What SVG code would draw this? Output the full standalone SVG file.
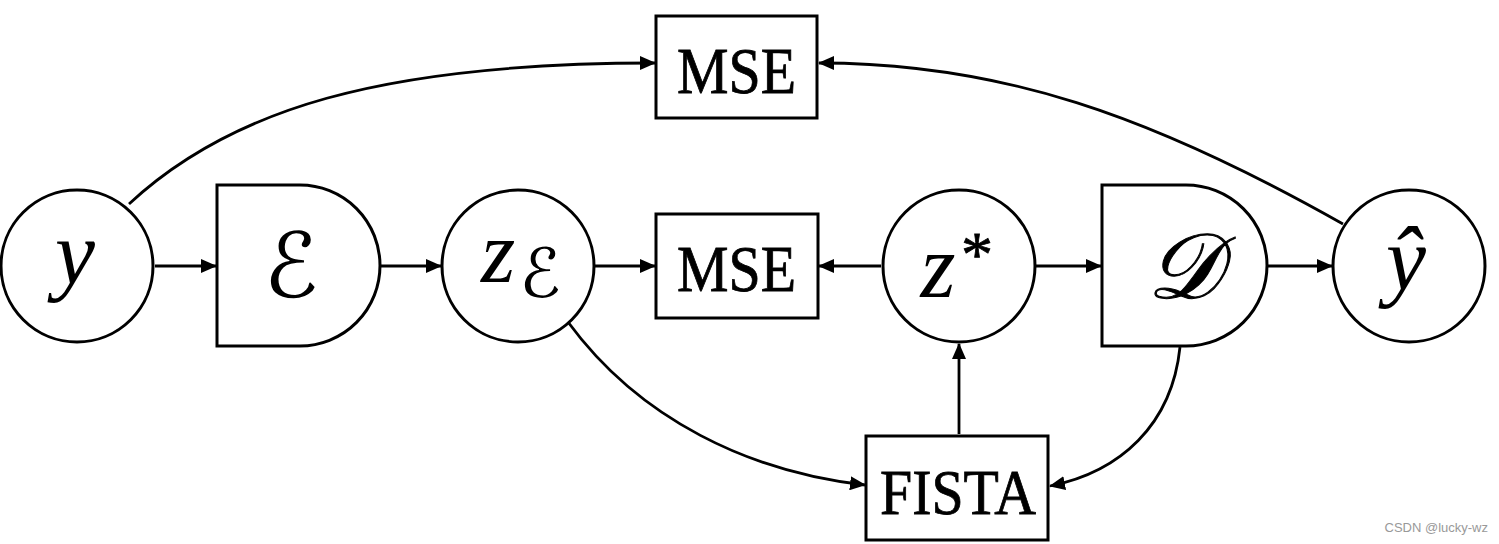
<svg xmlns="http://www.w3.org/2000/svg" width="1499" height="544" viewBox="0 0 1499 544">
<defs>
<style>
.n{fill:#fff;stroke:#000;stroke-width:3}
.c{fill:none;stroke:#000;stroke-width:2.8}
.t{font-family:"Liberation Serif","Times New Roman",serif;fill:#000;stroke:#000;stroke-width:0.8}
.m{font-family:"Liberation Serif","DejaVu Serif",serif;font-style:italic;fill:#000}
.s{font-family:"DejaVu Serif","DejaVu Sans","Noto Sans",serif;fill:#000}
</style>
<marker id="a" markerUnits="userSpaceOnUse" markerWidth="16" markerHeight="14" refX="15" refY="7" orient="auto">
<path d="M0,0 L16,7 L0,14 z" fill="#000"/>
</marker>
</defs>
<rect width="1499" height="544" fill="#fff"/>
<g id="connectors">
<path class="c" d="M155,266 L216,266" marker-end="url(#a)"/>
<path class="c" d="M381,266 L441,266" marker-end="url(#a)"/>
<path class="c" d="M595,266 L655,266" marker-end="url(#a)"/>
<path class="c" d="M881,266 L819,266" marker-end="url(#a)"/>
<path class="c" d="M1036,266 L1101,266" marker-end="url(#a)"/>
<path class="c" d="M1268,266 L1332,266" marker-end="url(#a)"/>
<path class="c" d="M959,434 L959,344" marker-end="url(#a)"/>
<path class="c" d="M129,204 C230,110 380,63 655,63" marker-end="url(#a)"/>
<path class="c" d="M1343,224 C1150,115 1000,63 819,63" marker-end="url(#a)"/>
<path class="c" d="M568,322 C640,420 750,472 865,485" marker-end="url(#a)"/>
<path class="c" d="M1180,347 C1172,425 1120,472 1050,486" marker-end="url(#a)"/>
</g>
<g id="node-y">
<circle class="n" cx="77" cy="266" r="76"/>
<text class="m" x="75" y="284" font-size="90" text-anchor="middle">y</text>
</g>
<g id="node-encoder">
<path class="n" d="M217,185 L300,185 A80,80.5 0 0 1 300,346 L217,346 Z"/>
<text class="s" x="291" y="297" font-size="90" font-style="italic" text-anchor="middle">ℰ</text>
</g>
<g id="node-zE">
<circle class="n" cx="518" cy="266" r="76"/>
<text class="m" x="498" y="282" font-size="88" text-anchor="middle">z</text>
<text class="s" x="540" y="297" font-size="68" font-style="italic" text-anchor="middle">ℰ</text>
</g>
<g id="node-mse-mid">
<rect class="n" x="656" y="214" width="162" height="104"/>
<text class="t" x="677" y="291" font-size="65" textLength="119" lengthAdjust="spacingAndGlyphs">MSE</text>
</g>
<g id="node-mse-top">
<rect class="n" x="656" y="16" width="161" height="102"/>
<text class="t" x="677" y="93" font-size="65" textLength="119" lengthAdjust="spacingAndGlyphs">MSE</text>
</g>
<g id="node-zstar">
<circle class="n" cx="959" cy="266" r="76"/>
<text class="m" x="938" y="297" font-size="90" text-anchor="middle">z</text>
<text class="t" x="977" y="276" font-size="64" stroke-width="0" text-anchor="middle">*</text>
</g>
<g id="node-decoder">
<path class="n" d="M1102,185 L1186,185 A81,80.5 0 0 1 1186,346 L1102,346 Z"/>
<text class="s" x="1183" y="298" font-size="92" font-style="italic" text-anchor="middle" stroke="#000" stroke-width="1">𝒟</text>
</g>
<g id="node-yhat">
<circle class="n" cx="1409" cy="266" r="76"/>
<text class="m" x="1406" y="290" font-size="90" text-anchor="middle">ŷ</text>
</g>
<g id="node-fista">
<rect class="n" x="866" y="436" width="182" height="104"/>
<text class="t" x="880" y="514" font-size="64" textLength="156" lengthAdjust="spacingAndGlyphs">FISTA</text>
</g>
<text x="1488" y="532" font-family="'Liberation Sans',Arial,sans-serif" font-size="13" fill="#999" text-anchor="end">CSDN @lucky-wz</text>
</svg>
